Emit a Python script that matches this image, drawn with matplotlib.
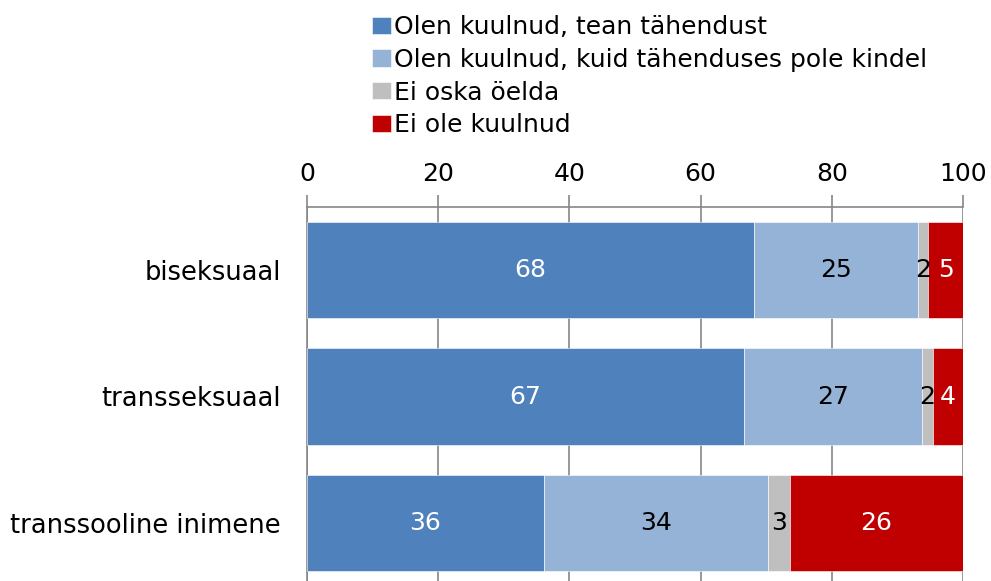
import matplotlib.pyplot as plt
import numpy as np

# Categories and series values (percent)
categories = ['biseksuaal', 'transseksuaal', 'transsooline inimene']
series_names = ['Olen kuulnud, tean tähendust',
                'Olen kuulnud, kuid tähenduses pole kindel',
                'Ei oska öelda',
                'Ei ole kuulnud']
know = [68.1, 66.6, 36.1]
unsure = [25.0, 27.1, 34.1]
cant_say = [1.6, 1.8, 3.4]
not_heard = [5.3, 4.5, 26.4]
labels = [[68, 67, 36], [25, 27, 34], [2, 2, 3], [5, 4, 26]]

colors = ['#4F81BD', '#95B3D7', '#BFBFBF', '#C00000']
text_colors = ['white', 'black', 'black', 'white']

fig = plt.figure(figsize=(9.91, 5.81), dpi=100)
ax = fig.add_axes([307 / 991, -5 / 581, 656 / 991, 379 / 581])

y = np.arange(len(categories))
left = np.zeros(len(categories))
for vals, name, col, tcol, lab in zip([know, unsure, cant_say, not_heard],
                                       series_names, colors, text_colors, labels):
    vals = np.array(vals)
    bars = ax.barh(y, vals, left=left, height=0.76, color=col, label=name,
                   edgecolor='white', linewidth=0.4, zorder=3)
    for i, b in enumerate(bars):
        ax.text(left[i] + vals[i] / 2, y[i], str(lab[i]), ha='center', va='center',
                color=tcol, fontsize=18, zorder=4)
    left += vals

ax.set_xlim(0, 100)
ax.set_ylim(2.5, -0.5)
ax.set_yticks(y)
ax.set_yticklabels(categories, fontsize=18.5)
ax.set_xticks(range(0, 101, 20))
ax.xaxis.tick_top()
ax.tick_params(axis='x', labelsize=18, direction='out', length=9, width=1.2,
               color='#868686', pad=6)
ax.tick_params(axis='y', length=0, pad=19)
ax.grid(axis='x', color='#868686', linewidth=1.2, zorder=0)
for s in ['right', 'bottom']:
    ax.spines[s].set_visible(False)
for s in ['top', 'left']:
    ax.spines[s].set_color('#868686')
    ax.spines[s].set_linewidth(1.2)

fig.legend(loc='upper left', bbox_to_anchor=(357 / 991, 1.0), frameon=False,
           fontsize=18, handlelength=0.76, handleheight=0.68, handletextpad=0.1,
           labelspacing=0.35, borderaxespad=0.2)

fig.savefig('out.png', dpi=100)
